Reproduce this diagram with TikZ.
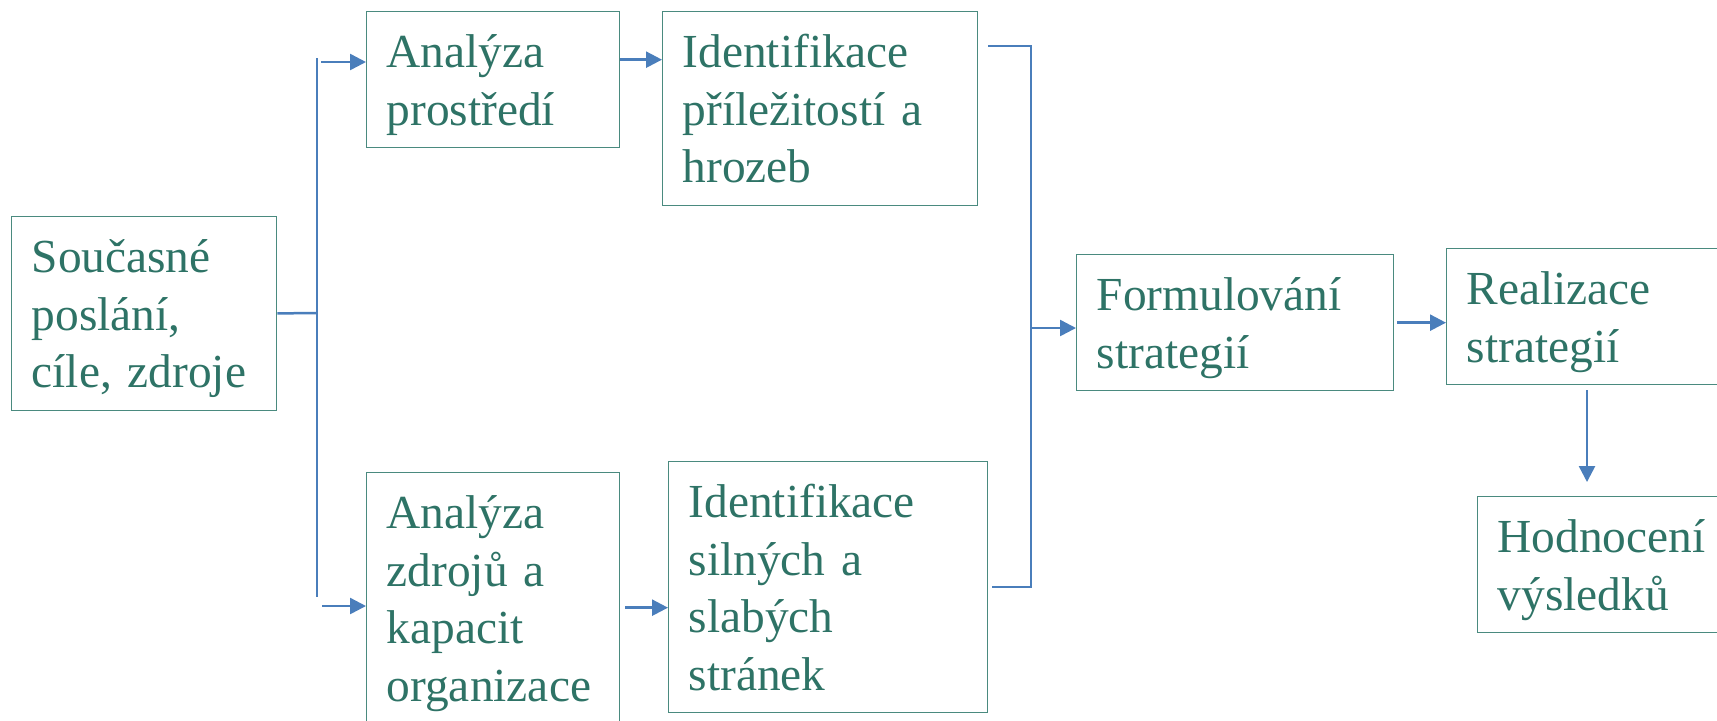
\documentclass[tikz,border=0pt]{standalone}
\usepackage{fontspec}
\setmainfont{Liberation Serif}
\usetikzlibrary{arrows.meta}
\definecolor{tealtext}{HTML}{2E7366}
\definecolor{tealframe}{HTML}{4A8A7F}
\definecolor{linkblue}{HTML}{4A7EBB}

\begin{document}
\begin{tikzpicture}[x=0.5pt,y=0.5pt,
  krok/.style={draw=tealframe, line width=0.65pt, anchor=north west, align=left,
    text=tealtext, inner xsep=10pt, inner ysep=4pt,
    font=\fontsize{23.7pt}{28.75pt}\selectfont,
    execute at begin node={\rule{0pt}{24pt}},
    execute at end node={\rule[-7.25pt]{0pt}{0pt}}},
  spoj/.style={draw=linkblue, line width=1.25pt},
  sipka/.style={spoj, -{Triangle[length=8pt,width=8pt]}}]
 \useasboundingbox (0,0) rectangle (1717,-720);
 \clip (0,0) rectangle (1717,-720);
 \node [krok, text width=112.5pt] (soucasne) at (11,-216) {Současné\\ poslání,\\ cíle, zdroje};
 \node [krok, text width=106.5pt] (prostredi) at (366,-11) {Analýza\\ prostředí};
 \node [krok, text width=137.5pt] (prilezitosti) at (662,-11) {Identifikace\\ příležitostí a\\ hrozeb};
 \node [krok, text width=106.5pt] (zdroje) at (366,-472) {Analýza\\ zdrojů a\\ kapacit\\ organizace};
 \node [krok, text width=139.5pt] (silne) at (668,-461) {Identifikace\\ silných a\\ slabých\\ stránek};
 \node [krok, text width=138.5pt] (formulovani) at (1076,-254) {Formulování\\ strategií};
 \node [krok, text width=140pt] (realizace) at (1446,-248) {Realizace\\ strategií};
 \node [krok, text width=140pt] (hodnoceni) at (1477,-496) {Hodnocení\\ výsledků};
 % rozdeleni
 \coordinate (rozcesti) at (317,-313);
 \coordinate (horni) at (317,-58);
 \coordinate (dolni) at (317,-597);
 \coordinate (kprostredi) at (321,-62);
 \coordinate (kzdroje) at (322,-606);
 \draw [spoj] (soucasne.east) -- (rozcesti);
 \draw [spoj] (horni) -- (dolni);
 \draw [sipka] (kprostredi) -- (kprostredi -| prostredi.west);
 \draw [sipka] (kzdroje) -- (kzdroje -| zdroje.west);
 \draw [sipka] ([yshift=10pt]prostredi.east) -- ([yshift=10pt]prostredi.east -| prilezitosti.west);
 \draw [sipka] ([shift={(2.5pt,-4.75pt)}]zdroje.east) -- ([yshift=-4.75pt]zdroje.east -| silne.west);
 % spojeni
 \coordinate (sberT) at (1031,-46);
 \coordinate (sberB) at (1031,-587);
 \coordinate (sber) at (1031,-328);
 \draw [spoj] ([xshift=5pt]prilezitosti.east |- sberT) -- (sberT) -- (sberB) -- ([xshift=2pt]silne.east |- sberB);
 \draw [sipka] (sber) -- (sber -| formulovani.west);
 \draw [sipka] ([xshift=1.5pt]formulovani.east) -- (formulovani.east -| realizace.west);
 \coordinate (dolu) at (1587,-390);
 \draw [sipka] (dolu) -- ([yshift=7pt]dolu |- hodnoceni.north);
\end{tikzpicture}
\end{document}
